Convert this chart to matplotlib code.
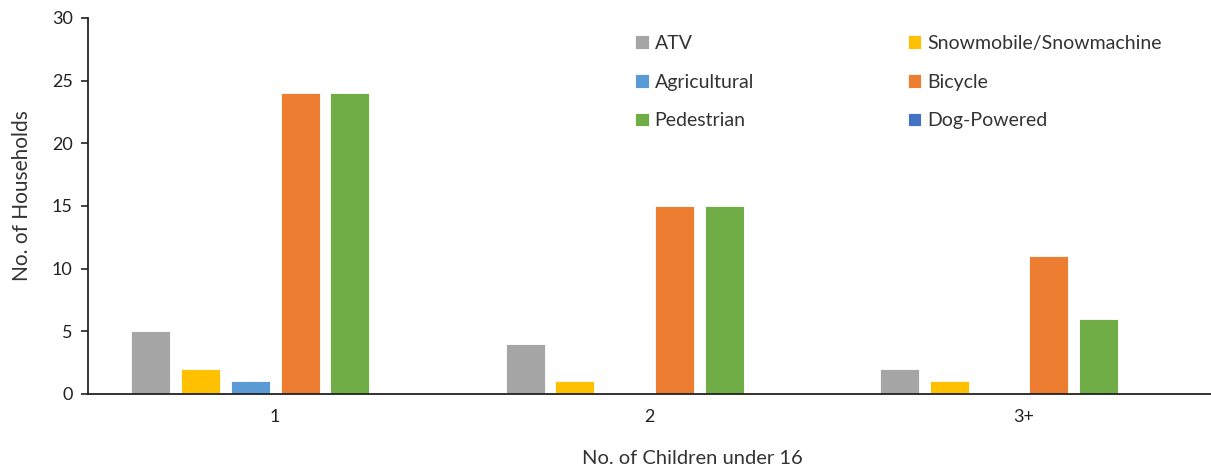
import matplotlib
matplotlib.use('Agg')
import matplotlib.pyplot as plt
import numpy as np

# data
groups = ['1', '2', '3+']
series = ['ATV', 'Snowmobile/Snowmachine', 'Agricultural', 'Bicycle', 'Pedestrian', 'Dog-Powered']
atv = [5, 4, 2]
snowmobile = [2, 1, 1]
agricultural = [1, 0, 0]
bicycle = [24, 15, 11]
pedestrian = [24, 15, 6]
dog_powered = [0, 0, 0]
colors = ['#A5A5A5', '#FFC000', '#5B9BD5', '#ED7D31', '#70AD47', '#4472C4']

plt.rcParams['font.family'] = ['Lato', 'DejaVu Sans']

fig = plt.figure(figsize=(12.11, 4.70), dpi=100)
ax = fig.add_axes([0.0727, 0.162, 0.9273, 0.800])

values = [atv, snowmobile, agricultural, bicycle, pedestrian, dog_powered]
x = np.arange(len(groups))
step = 0.133
width = 0.104
handles = []
for i, (name, vals, c) in enumerate(zip(series, values, colors)):
    h = ax.bar(x + (i - 2.5) * step, vals, width, color=c, label=name,
               edgecolor='white', linewidth=0.6)
    handles.append(h)

ax.set_xlim(-0.5, 2.5)
ax.set_ylim(0, 30)
ax.set_yticks(range(0, 31, 5))
ax.set_xticks(x)
ax.set_xticklabels(groups)
ax.tick_params(axis='x', length=0, labelsize=13, pad=11, colors='#222222')
ax.tick_params(axis='y', length=5, width=1.2, labelsize=13, pad=6, colors='#222222')
for s in ['top', 'right']:
    ax.spines[s].set_visible(False)
for s in ['left', 'bottom']:
    ax.spines[s].set_linewidth(1.3)
    ax.spines[s].set_color('#222222')

ax.set_ylabel('No. of Households', fontsize=15, color='#333333')
ax.set_xlabel('No. of Children under 16', fontsize=14.5, color='#333333')
ax.yaxis.set_label_coords(-0.05, 0.527)
ax.xaxis.set_label_coords(0.538, -0.148)

# legend is filled row by row in the reference
order = [0, 2, 4, 1, 3, 5]
leg = fig.legend([handles[k] for k in order], [series[k] for k in order],
                 ncol=2, loc='upper left', bbox_to_anchor=(0.51, 0.963),
                 frameon=False, fontsize=14, handlelength=0.7, handleheight=0.7,
                 handletextpad=0.3, labelspacing=1.12, columnspacing=7.9)
for t in leg.get_texts():
    t.set_color('#333333')

fig.savefig('out.png', dpi=100)
